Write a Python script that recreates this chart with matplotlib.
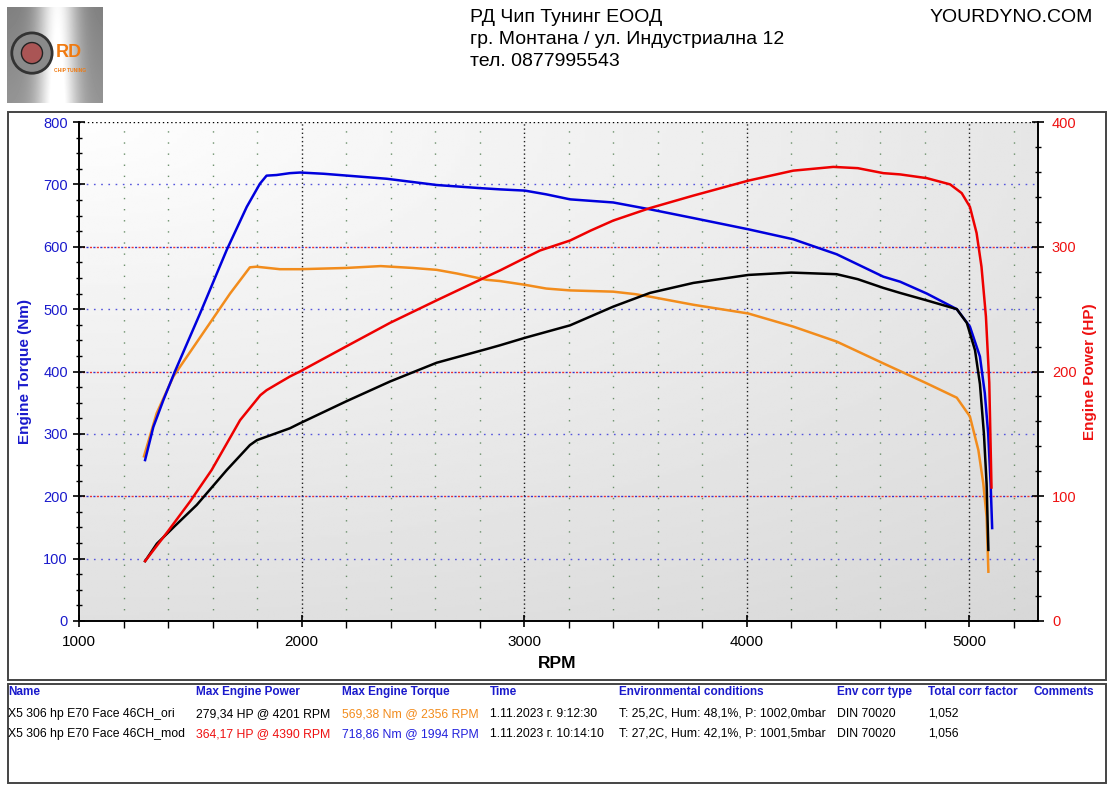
import numpy as np
import matplotlib
matplotlib.use("Agg")
import matplotlib.pyplot as plt
from matplotlib.patches import Rectangle, Circle
from matplotlib.ticker import MultipleLocator

plt.rcParams['font.family'] = ['Liberation Sans', 'DejaVu Sans']

# ---------------- data ----------------
mod_torque_rpm = [1297, 1334, 1379, 1431, 1544, 1664, 1754, 1813, 1843, 1888, 1948, 1994, 2100,
                  2383, 2607, 2802, 2892, 3004, 3100, 3207, 3401, 3566, 3761, 4008, 4210, 4405,
                  4615, 4690, 4810, 4945, 5004, 5049, 5071, 5086, 5097, 5104]
mod_torque_nm = [258, 311, 354, 400, 493, 595, 664, 701, 714, 715, 718, 719, 717,
                 709, 699, 694, 692, 690, 684, 676, 671, 660, 646, 628, 612, 588,
                 552, 544, 525, 500, 472, 424, 365, 301, 221, 149]

ori_torque_rpm = [1292, 1349, 1424, 1589, 1679, 1768, 1798, 1903, 1993, 2200, 2356, 2500, 2607,
                  2700, 2832, 2892, 3004, 3100, 3207, 3401, 3500, 3566, 3761, 4008, 4210, 4405,
                  4615, 4810, 4945, 5004, 5042, 5064, 5079, 5087]
ori_torque_nm = [264, 333, 392, 478, 525, 567, 568, 564, 564, 566, 569, 566, 563,
                 557, 547, 545, 539, 533, 530, 528, 524, 520, 507, 493, 472, 448,
                 413, 381, 358, 328, 274, 221, 167, 79]

mod_power_rpm = [1297, 1400, 1500, 1596, 1724, 1815, 1843, 1900, 1948, 1993, 2200, 2398, 2607, 2832,
                 2892, 3004, 3072, 3207, 3300, 3401, 3566, 3761, 4008, 4210, 4390, 4500, 4615,
                 4690, 4810, 4915, 4967, 5004, 5034, 5056, 5076, 5091, 5101]
mod_power_hp = [48, 72, 96, 121, 161, 181, 185, 191, 196, 200, 220, 239, 257, 276,
                281, 291, 297, 305, 313, 321, 331, 341, 353, 361, 364, 363, 359,
                358, 355, 350, 343, 332, 311, 284, 244, 191, 107]

ori_power_rpm = [1297, 1350, 1430, 1529, 1664, 1768, 1800, 1948, 1993, 2200, 2398, 2607, 2832, 2892,
                 3004, 3207, 3401, 3566, 3761, 4008, 4201, 4405, 4500, 4615, 4690, 4810,
                 4945, 4990, 5027, 5049, 5067, 5079, 5087]
ori_power_hp = [48, 62, 76, 93, 121, 141, 145, 154.5, 158.5, 176, 192, 207, 218, 221,
                227, 237, 252, 263, 271, 277.4, 279.3, 278, 274, 267, 263, 257,
                250, 239, 217, 190, 150, 110, 57]

torque_ticks = [0, 100, 200, 300, 400, 500, 600, 700, 800]
power_ticks = [0, 100, 200, 300, 400]
rpm_ticks = [1000, 2000, 3000, 4000, 5000]

header_lines = ["РД Чип Тунинг ЕООД", "гр. Монтана / ул. Индустриална 12", "тел. 0877995543"]
site_name = "YOURDYNO.COM"

table_headers = ["Name", "Max Engine Power", "Max Engine Torque", "Time",
                 "Environmental conditions", "Env corr type", "Total corr factor", "Comments"]
table_rows = [
    ["X5 306 hp E70 Face 46CH_ori", "279,34 HP @ 4201 RPM", "569,38 Nm @ 2356 RPM",
     "1.11.2023 г. 9:12:30", "T: 25,2C, Hum: 48,1%, P: 1002,0mbar", "DIN 70020", "1,052", ""],
    ["X5 306 hp E70 Face 46CH_mod", "364,17 HP @ 4390 RPM", "718,86 Nm @ 1994 RPM",
     "1.11.2023 г. 10:14:10", "T: 27,2C, Hum: 42,1%, P: 1001,5mbar", "DIN 70020", "1,056", ""],
]
row_colors = [["black", "black", "#f28c1c", "black", "black", "black", "black", "black"],
              ["black", "#ee1111", "#2222dd", "black", "black", "black", "black", "black"]]

# ---------------- figure ----------------
W, H = 1114, 788
fig = plt.figure(figsize=(W / 100, H / 100), dpi=100)
fig.patch.set_facecolor("white")

def fx(px):
    return px / W

def fy(py):
    return 1 - py / H

# frames
fig.add_artist(Rectangle((fx(8), fy(680)), fx(1106) - fx(8), fy(112) - fy(680),
                         transform=fig.transFigure, fill=False, edgecolor="#444444", lw=1.4))
fig.add_artist(Rectangle((fx(8), fy(783)), fx(1106) - fx(8), fy(684) - fy(783),
                         transform=fig.transFigure, fill=False, edgecolor="#444444", lw=1.4))

# logo
lax = fig.add_axes([fx(7), fy(103), fx(103) - fx(7), fy(7) - fy(103)])
yy, xx = np.mgrid[0:96, 0:96]
ang = np.abs(xx - 50) / 50.0
img = 0.5 + 0.48 * np.exp(-(ang * 2.5) ** 2) + 0.08 * (yy / 96.0)
img = np.clip(img, 0, 1)
lax.imshow(img, cmap="gray", vmin=0, vmax=1, extent=[0, 1, 0, 1], aspect="auto")
lax.add_patch(Circle((0.26, 0.52), 0.21, facecolor="#8a8a8a", edgecolor="#333333", lw=2))
lax.add_patch(Circle((0.26, 0.52), 0.11, facecolor="#aa5555", edgecolor="#222222", lw=1))
lax.text(0.64, 0.53, "RD", color="#f07a10", fontsize=13, fontweight="bold", ha="center", va="center")
lax.text(0.66, 0.34, "CHIP TUNING", color="#f07a10", fontsize=3.5, fontweight="bold", ha="center", va="center")
lax.set_xlim(0, 1)
lax.set_ylim(0, 1)
lax.axis("off")

# header text
for i, line in enumerate(header_lines):
    fig.text(fx(470), fy(18 + i * 21.5), line, fontsize=14, ha="left", va="center", color="black")
fig.text(fx(1093), fy(18), site_name, fontsize=14, ha="right", va="center", color="black")

# main axes
ax = fig.add_axes([fx(79), fy(621), fx(1038) - fx(79), fy(122) - fy(621)])
ax.set_xlim(1000, 5310)
ax.set_ylim(0, 800)
ax2 = ax.twinx()
ax2.set_ylim(0, 400)

# background gradient (white at top-left, grey towards bottom/right)
gy, gx = np.mgrid[0:200, 0:200] / 199.0
d = np.sqrt((gx * 0.8) ** 2 + (gy) ** 2) / np.sqrt(1.64)
bg = 0.995 - 0.15 * d
ax.imshow(bg, cmap="gray", vmin=0, vmax=1, extent=[0, 1, 0, 1], origin="upper", aspect="auto",
          transform=ax.transAxes, zorder=0)

# grid lines
for v in [100, 300, 500, 700]:
    ax.axhline(v, color="#5555dd", lw=1.0, ls=(0, (1.2, 4)), zorder=1)
for v in [200, 400, 600]:
    ax.axhline(v, color="#3333cc", lw=1.0, ls=(0, (1.5, 3.5)), zorder=1)
    ax.axhline(v, color="#ee3333", lw=1.0, ls=(2.5, (1.5, 3.5)), zorder=1)
ax.axhline(800, color="black", lw=1.0, ls=(0, (1, 2)), zorder=1)
for v in np.arange(1200, 5300, 200):
    if v % 1000 == 0:
        ax.axvline(v, color="#222222", lw=1.0, ls=(0, (1, 2)), zorder=1)
    else:
        ax.axvline(v, color="#6a8f6a", lw=1.0, ls=(0, (1, 7)), zorder=1)

# curves
ax.plot(ori_torque_rpm, ori_torque_nm, color="#f28c1c", lw=1.8, zorder=3)
ax.plot(mod_torque_rpm, mod_torque_nm, color="#0000dd", lw=1.8, zorder=4)
ax2.plot(ori_power_rpm, ori_power_hp, color="black", lw=1.8, zorder=3)
ax2.plot(mod_power_rpm, mod_power_hp, color="#ee0000", lw=1.8, zorder=4)

# spines and ticks
for a in (ax, ax2):
    a.spines["top"].set_visible(False)
ax.spines["right"].set_visible(False)
ax2.spines["left"].set_visible(False)
ax2.spines["bottom"].set_visible(False)
for s in ("left", "bottom"):
    ax.spines[s].set_linewidth(1.4)
ax2.spines["right"].set_linewidth(1.4)

ax.set_yticks(torque_ticks)
ax.yaxis.set_minor_locator(MultipleLocator(25))
ax.set_xticks(rpm_ticks)
ax.xaxis.set_minor_locator(MultipleLocator(200))
ax2.set_yticks(power_ticks)
ax2.yaxis.set_minor_locator(MultipleLocator(20))

ax.tick_params(axis="y", which="major", direction="inout", length=8, width=1.2, labelsize=10.5,
               labelcolor="#1a1acc", pad=4)
ax.tick_params(axis="y", which="minor", direction="inout", length=5, width=1.0)
ax.tick_params(axis="x", which="major", direction="inout", length=8, width=1.2, labelsize=11,
               labelcolor="black", pad=6)
ax.tick_params(axis="x", which="minor", direction="out", length=5, width=1.0)
ax2.tick_params(axis="y", which="major", direction="inout", length=8, width=1.2, labelsize=10.5,
                labelcolor="#ee1111", pad=6)
ax2.tick_params(axis="y", which="minor", direction="inout", length=5, width=1.0)

# axis labels
fig.text(fx(25), fy(372), "Engine Torque (Nm)", rotation=90, color="#1a1acc", fontsize=11,
         fontweight="bold", ha="center", va="center")
fig.text(fx(1090), fy(372), "Engine Power (HP)", rotation=90, color="#ee1111", fontsize=11,
         fontweight="bold", ha="center", va="center")
fig.text(fx(557), fy(664), "RPM", color="black", fontsize=12.5, fontweight="bold",
         ha="center", va="center")

# table
col_x = [8, 196, 342, 490, 619, 837, 928, 1033]
for cx, h in zip(col_x, table_headers):
    fig.text(fx(cx), fy(692), h, color="#1a1acc", fontsize=8.5, fontweight="bold",
             ha="left", va="center")
for r, (row, cols) in enumerate(zip(table_rows, row_colors)):
    for cx, t, c in zip(col_x, row, cols):
        if t:
            fig.text(fx(cx), fy(714 + r * 20), t, color=c, fontsize=8.8, ha="left", va="center")

fig.savefig("out.png", dpi=100, facecolor="white")
